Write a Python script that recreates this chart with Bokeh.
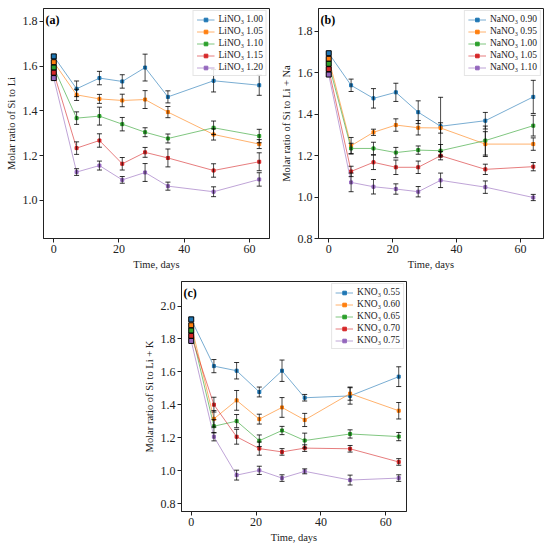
from bokeh.plotting import figure
from bokeh.layouts import column, row, Spacer
from bokeh.models import FixedTicker, PrintfTickFormatter, Label
from bokeh.embed import file_html
from bokeh.resources import INLINE

# ---------------- data ----------------
days_a = [0, 7, 14, 21, 28, 35, 49, 63]
days_bc = [0, 7, 14, 21, 28, 35, 49, 64]

labels_a = ["LiNO\u2083 1.00", "LiNO\u2083 1.05", "LiNO\u2083 1.10", "LiNO\u2083 1.15", "LiNO\u2083 1.20"]
li_100 = [1.644, 1.499, 1.547, 1.532, 1.594, 1.463, 1.535, 1.515]
li_105 = [1.618, 1.472, 1.454, 1.447, 1.451, 1.395, 1.295, 1.252]
li_110 = [1.594, 1.368, 1.377, 1.341, 1.305, 1.277, 1.325, 1.288]
li_115 = [1.571, 1.234, 1.268, 1.164, 1.215, 1.190, 1.134, 1.173]
li_120 = [1.547, 1.127, 1.156, 1.092, 1.125, 1.064, 1.039, 1.094]
li_100_err = [0, 0.035, 0.030, 0.030, 0.060, 0.027, 0.050, 0.045]
li_105_err = [0, 0.025, 0.020, 0.028, 0.040, 0.025, 0.025, 0.020]
li_110_err = [0, 0.028, 0.040, 0.030, 0.020, 0.020, 0.030, 0.030]
li_115_err = [0, 0.028, 0.030, 0.028, 0.022, 0.040, 0.030, 0.040]
li_120_err = [0, 0.015, 0.020, 0.015, 0.040, 0.018, 0.022, 0.030]

labels_b = ["NaNO\u2083 0.90", "NaNO\u2083 0.95", "NaNO\u2083 1.00", "NaNO\u2083 1.05", "NaNO\u2083 1.10"]
na_090 = [1.695, 1.540, 1.477, 1.506, 1.410, 1.342, 1.369, 1.484]
na_095 = [1.668, 1.248, 1.313, 1.348, 1.335, 1.334, 1.256, 1.256]
na_100 = [1.644, 1.235, 1.235, 1.215, 1.227, 1.224, 1.273, 1.345]
na_105 = [1.618, 1.124, 1.168, 1.144, 1.144, 1.200, 1.134, 1.147]
na_110 = [1.592, 1.071, 1.050, 1.039, 1.026, 1.081, 1.048, 0.998]
na_090_err = [0, 0.030, 0.047, 0.044, 0.055, 0.140, 0.040, 0.080]
na_095_err = [0, 0.040, 0.015, 0.030, 0.035, 0.025, 0.060, 0.030]
na_100_err = [0, 0.025, 0.030, 0.025, 0.020, 0.030, 0.070, 0.050]
na_105_err = [0, 0.025, 0.035, 0.035, 0.030, 0.020, 0.025, 0.020]
na_110_err = [0, 0.045, 0.035, 0.025, 0.025, 0.035, 0.030, 0.015]

labels_c = ["KNO\u2083 0.55", "KNO\u2083 0.60", "KNO\u2083 0.65", "KNO\u2083 0.70", "KNO\u2083 0.75"]
k_055 = [1.919, 1.635, 1.607, 1.478, 1.607, 1.443, 1.454, 1.571]
k_060 = [1.883, 1.315, 1.427, 1.313, 1.384, 1.308, 1.468, 1.364]
k_065 = [1.851, 1.270, 1.301, 1.182, 1.244, 1.183, 1.223, 1.207]
k_070 = [1.819, 1.401, 1.206, 1.134, 1.114, 1.137, 1.133, 1.053]
k_075 = [1.788, 1.206, 0.973, 1.002, 0.955, 0.996, 0.943, 0.955]
k_055_err = [0, 0.040, 0.050, 0.030, 0.065, 0.020, 0.050, 0.060]
k_060_err = [0, 0.050, 0.060, 0.030, 0.060, 0.040, 0.040, 0.050]
k_065_err = [0, 0.040, 0.040, 0.035, 0.025, 0.045, 0.025, 0.025]
k_070_err = [0, 0.045, 0.045, 0.040, 0.020, 0.020, 0.020, 0.020]
k_075_err = [0, 0.025, 0.030, 0.025, 0.020, 0.015, 0.030, 0.020]

ticks_a = [1.0, 1.2, 1.4, 1.6, 1.8]
ticks_b = [0.8, 1.0, 1.2, 1.4, 1.6, 1.8]
ticks_c = [0.8, 1.0, 1.2, 1.4, 1.6, 1.8, 2.0]
xticks = [0, 20, 40, 60]

COLORS = ["#1f77b4", "#ff7f0e", "#2ca02c", "#d62728", "#9467bd"]
FONT = "Liberation Serif"


def panel(xs, series, errs, labels, xr, yr, yticks, ylabel, tag,
          width, height, bl, br, bt, bb):
    p = figure(width=width, height=height, x_range=xr, y_range=yr,
               output_backend="svg", toolbar_location=None,
               min_border_left=bl, min_border_right=br,
               min_border_top=bt, min_border_bottom=bb)
    p.xgrid.visible = False
    p.ygrid.visible = False
    p.outline_line_color = "#222222"
    p.outline_line_width = 1
    p.outline_line_alpha = 1
    p.background_fill_color = "white"
    p.border_fill_color = "white"

    p.xaxis.ticker = FixedTicker(ticks=xticks)
    p.yaxis.ticker = FixedTicker(ticks=yticks)
    p.yaxis.formatter = PrintfTickFormatter(format="%.1f")
    for ax in (p.xaxis, p.yaxis):
        ax.axis_line_color = "#222222"
        ax.major_tick_line_color = "#222222"
        ax.major_tick_out = 4
        ax.major_tick_in = 0
        ax.minor_tick_line_color = None
        ax.major_label_text_font = FONT
        ax.major_label_text_font_size = "12px"
        ax.major_label_text_color = "#222222"
        ax.major_label_standoff = 2
        ax.axis_label_text_font = FONT
        ax.axis_label_text_font_size = "10.5px"
        ax.axis_label_text_font_style = "normal"
        ax.axis_label_text_color = "#222222"
        ax.axis_label_standoff = 3
    p.xaxis.axis_label = "Time, days"
    p.yaxis.axis_label = ylabel

    for ys, c, lab in zip(series, COLORS, labels):
        p.line(xs, ys, line_color=c, line_width=1, line_alpha=0.6, legend_label=lab)
        p.scatter(xs[1:], ys[1:], marker="square", size=3, fill_color=c,
                  line_color=c, legend_label=lab)

    for ys, es in zip(series, errs):
        bx = xs[1:]
        lo = [y - e for y, e in zip(ys[1:], es[1:])]
        hi = [y + e for y, e in zip(ys[1:], es[1:])]
        p.segment(x0=bx, y0=lo, x1=bx, y1=hi, line_color="black",
                  line_width=1, line_alpha=0.7)
        p.scatter(bx, lo, marker="dash", size=5, line_color="black",
                  line_width=1, line_alpha=0.8)
        p.scatter(bx, hi, marker="dash", size=5, line_color="black",
                  line_width=1, line_alpha=0.8)

    for ys, c in zip(series, COLORS):
        p.scatter([xs[0]], [ys[0]], marker="square", size=5, fill_color=c,
                  line_color="black", line_width=1)

    lg = p.legend[0]
    lg.location = "top_right"
    lg.label_text_font = FONT
    lg.label_text_font_size = "9.5px"
    lg.label_text_color = "#222222"
    lg.glyph_width = 18
    lg.glyph_height = 9
    lg.label_height = 9
    lg.label_standoff = 4
    lg.spacing = 2
    lg.padding = 3
    lg.margin = 2
    lg.border_line_color = "#cccccc"
    lg.border_line_width = 1
    lg.background_fill_alpha = 0.85

    p.add_layout(Label(x=xr[0], y=yr[1], x_offset=2, y_offset=-4, text=tag,
                       text_font=FONT, text_font_style="bold",
                       text_font_size="12px", text_baseline="top",
                       text_align="left", text_color="black"))
    return p


pa = panel(days_a, [li_100, li_105, li_110, li_115, li_120],
           [li_100_err, li_105_err, li_110_err, li_115_err, li_120_err],
           labels_a, (-3.15, 66.15), (0.83, 1.858), ticks_a,
           "Molar ratio of Si to Li", "(a)", 275, 274, 43, 6, 8, 36)
pb = panel(days_bc, [na_090, na_095, na_100, na_105, na_110],
           [na_090_err, na_095_err, na_100_err, na_105_err, na_110_err],
           labels_b, (-3.2, 67.2), (0.8, 1.911), ticks_b,
           "Molar ratio of Si to Li + Na", "(b)", 275, 274, 43, 7, 8, 36)
pc = panel(days_bc, [k_055, k_060, k_065, k_070, k_075],
           [k_055_err, k_060_err, k_065_err, k_070_err, k_075_err],
           labels_c, (-3.0, 66.4), (0.752, 2.149), ticks_c,
           "Molar ratio of Si to Li + K", "(c)", 270, 271, 43, 2, 7, 33)

layout = column(row(pa, pb), row(Spacer(width=138, height=10), pc))

open("out.html", "w").write(file_html(layout, INLINE))
